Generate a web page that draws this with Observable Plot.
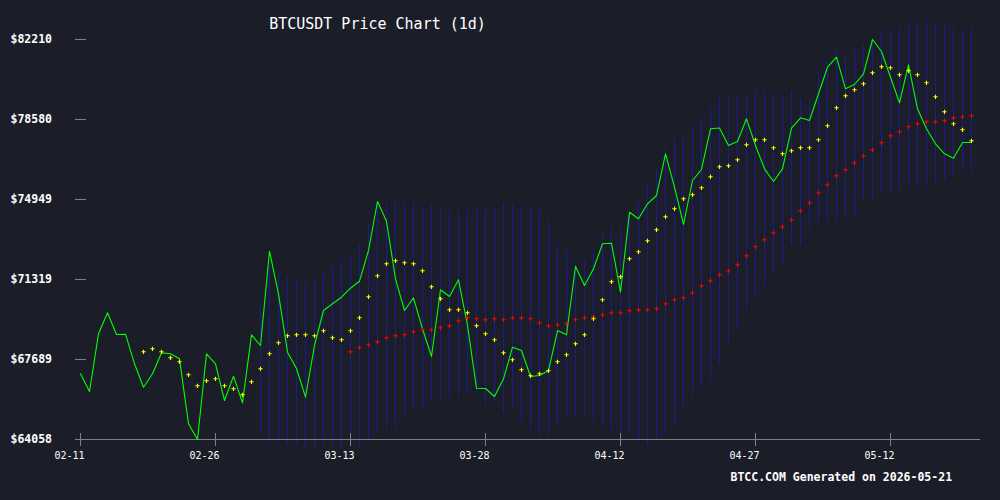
<!DOCTYPE html>
<html>
<head>
<meta charset="utf-8">
<script src="https://cdn.jsdelivr.net/npm/d3@7"></script>
<script src="https://cdn.jsdelivr.net/npm/@observablehq/plot@0.6"></script>
<style>
  html, body { margin: 0; padding: 0; background: #1b1e29; }
  #chart svg { display: block; }
</style>
</head>
<body>
<div id="chart"></div>
<script>
const startDate = "2026-02-11";
const endDate = "2026-05-21";

const price = [67039,66236,68855,69808,68823,68837,67493,66431,67039,67992,
67947,67720,64770,64058,67947,67493,65828,66931,65723,68809,
68324,72603,70670,68020,67280,65978,68324,69912,70216,70516,
70924,71242,72635,74858,73964,71351,69912,70488,69082,67825,
70851,70547,71305,69231,66386,66372,66009,66813,68247,68097,
66917,66962,67189,69004,68809,71909,71047,71804,72939,72966,
70742,74373,74073,74754,75131,77023,75508,73815,75811,76311,
78158,78194,77400,77581,78611,77400,76342,75766,76342,78185,
78657,78534,79746,80953,81407,79973,80168,80653,82210,81665,
80499,79338,81062,79065,78158,77477,77023,76823,77536,77536];

// short moving average, first value on day index 7
const maShortStart = 7;
const maShort = [68038,68174,68038,67766,67584,66994,66495,66722,66813,66495,
66359,66086,66676,67266,67947,68446,68764,68809,68809,68764,
68991,68673,68582,68991,69581,70534,71487,72031,72167,72077,
72031,71714,70988,70443,69944,69944,69808,69218,68855,68582,
67992,67675,67221,66949,67039,67176,67584,67902,68401,68809,
69535,70398,71214,71441,72258,72576,73075,73574,74164,74527,
74981,75162,75480,75979,76433,76478,76751,77432,77658,77658,
77295,77023,77159,77295,77295,77658,78294,79111,79655,79927,
80200,80699,80971,80926,80608,80790,80608,80245,79610,78929,
78384,78112,77613];

// long moving average, first value on day index 30
const maLongStart = 30;
const maLong = [68038,68219,68356,68492,68673,68764,68809,68945,69036,69036,
69127,69218,69445,69581,69535,69490,69535,69490,69581,69581,
69535,69354,69218,69263,69308,69490,69581,69626,69717,69808,
69808,69898,69944,69944,69989,70216,70398,70488,70715,71033,
71260,71532,71714,71986,72394,72803,73120,73438,73710,74028,
74436,74799,75253,75616,76025,76297,76615,76932,77205,77522,
77840,78021,78248,78384,78475,78475,78521,78657,78702,78747];

// bands, first value on day index 20
const bandStart = 20;
const bandUpper = [70289,71909,71591,71423,71351,71196,71273,71577,71954,72181,
72485,72862,73846,74827,74754,74936,74781,74781,74677,74677,
74600,74405,74405,74418,74527,74450,74600,74781,74677,74632,
74600,74450,73964,72907,72635,72031,72181,72485,73393,73692,
73620,74373,74827,75662,76265,77250,77704,77854,78230,78648,
79156,79519,79533,79623,79791,79896,79819,79746,79746,79850,
79487,79442,80726,81180,81711,81484,81711,81938,82242,82573,
82664,82696,82968,82922,82968,82922,82845,82696,82618,82664];
const bandLower = [64389,63863,63863,63863,63863,63709,63709,63863,63709,63709,
63709,63709,64013,64317,64544,64544,65070,65374,65451,65828,
65905,65978,65978,66132,66132,65601,65828,65224,65524,64843,
64544,64240,64240,64616,65147,64997,64997,64843,64616,64544,
64013,64240,64013,63786,64090,64240,64770,65374,66055,66372,
66658,67493,68473,69118,69989,70443,71047,71650,71954,72862,
72862,73620,73919,73919,73919,74146,74223,74981,74981,75208,
75281,75358,75508,75585,75585,75734,75811,76038,76188,76188];

const yTicks = [64058, 67689, 71319, 74949, 78580, 82210];
const xTickLabels = ["2026-02-11","2026-02-26","2026-03-13","2026-03-28","2026-04-12","2026-04-27","2026-05-12"];

const titleText = "BTCUSDT Price Chart (1d)";
const captionText = "BTCC.COM Generated on 2026-05-21";

const days = d3.utcDay.range(new Date(startDate), d3.utcDay.offset(new Date(endDate), 1));
const priceData = price.map((v, i) => ({date: days[i], v}));
const shortData = maShort.map((v, i) => ({date: days[i + maShortStart], v}));
const longData = maLong.map((v, i) => ({date: days[i + maLongStart], v}));
const bandData = bandUpper.map((u, i) => ({date: days[i + bandStart], u, l: bandLower[i]}));
const xTicks = xTickLabels.map(s => new Date(s));
const fmtDay = d3.utcFormat("%m-%d");

const mono = "'DejaVu Sans Mono', monospace";
const W = 1000, H = 500, ML = 80, MR = 29, MT = 39, MB = 61;

const chart = Plot.plot({
  width: W,
  height: H,
  marginLeft: ML,
  marginRight: MR,
  marginTop: MT,
  marginBottom: MB,
  style: {background: "#1b1e29", color: "white", fontFamily: mono},
  x: {type: "utc", domain: [new Date(startDate), new Date(endDate)], axis: null},
  y: {domain: [64058, 82210], axis: null},
  marks: [
    Plot.ruleX(bandData, {x: "date", y1: "l", y2: "u", stroke: "#1c1c92", strokeWidth: 1}),
    // x axis line
    Plot.ruleY([yTicks[0]], {stroke: "#808080", strokeWidth: 1.2, insetLeft: -5, insetRight: -9}),
    // y tick marks (short dashes)
    Plot.ruleY(yTicks, {y: d => d, stroke: "#808080", strokeWidth: 1,
      insetLeft: -5, insetRight: (W - MR - ML) - 6}),
    // y labels
    Plot.text(yTicks, {y: d => d, text: d => "$" + d, frameAnchor: "left", dx: -70,
      textAnchor: "start", fill: "white", fontWeight: "bold", fontSize: 11.5, fontFamily: mono}),
    // x tick marks crossing the axis line
    Plot.ruleX(xTicks, {x: d => d, stroke: "#808080", strokeWidth: 1,
      insetTop: (H - MB - MT) - 6, insetBottom: -7}),
    // x labels
    Plot.text(xTicks, {x: d => d, text: d => fmtDay(d), frameAnchor: "bottom", dy: 19, dx: 4,
      textAnchor: "end", fill: "white", fontSize: 10, fontFamily: mono}),
    Plot.line(priceData, {x: "date", y: "v", stroke: "#00ff00", strokeWidth: 1.1}),
    Plot.dot(longData, {x: "date", y: "v", symbol: "plus", stroke: "#ff0000", r: 1.5, strokeWidth: 1.1}),
    Plot.dot(shortData, {x: "date", y: "v", symbol: "plus", stroke: "#ffff00", r: 1.5, strokeWidth: 1.1}),
    Plot.text([titleText], {frameAnchor: "top-left", dx: 297, dy: -21, textAnchor: "middle",
      fill: "white", fontSize: 15, fontFamily: mono}),
    Plot.text([captionText], {frameAnchor: "bottom-left", dx: 650, dy: 41, textAnchor: "start",
      fill: "white", fontSize: 11.5, fontWeight: "bold", fontFamily: mono})
  ]
});
document.getElementById("chart").appendChild(chart);
</script>
</body>
</html>
